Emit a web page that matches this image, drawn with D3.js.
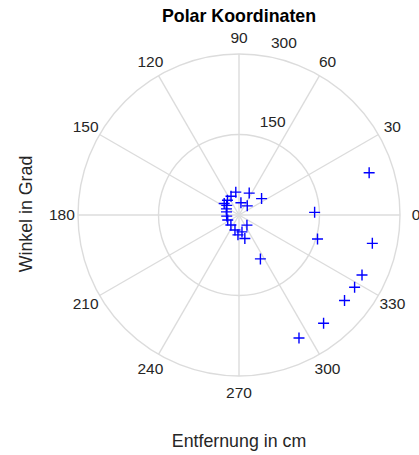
<!DOCTYPE html>
<html>
<head>
<meta charset="utf-8">
<script src="https://cdn.jsdelivr.net/npm/d3@7"></script>
<style>
  body { margin: 0; background: #fff; }
  text { font-family: "Liberation Sans", Arial, sans-serif; }
</style>
</head>
<body>
<div id="chart"></div>
<script>
var width = 419, height = 455;

// measured points: angle in degrees, distance in cm
var winkel = [2, 18, 36, 48, 65, 81, 98, 113, 128, 142, 142, 154, 166, 185, 204, 231, 255, 267, 280, 284, 296, 296, 308, 308, 321, 328, 334, 343, 348];
var entfernung = [141, 255, 52, 23, 45, 23, 43, 38, 35, 35, 29, 26, 24, 23, 23, 24, 29, 37, 32, 45, 91, 255, 24, 256, 253, 254, 255, 153, 254];

var angleTicks = [0, 30, 60, 90, 120, 150, 180, 210, 240, 270, 300, 330];
var radialTicks = [150, 300];

var cx = 239, cy = 215;

var svg = d3.select('#chart').append('svg')
  .attr('width', width)
  .attr('height', height);

var r = d3.scaleLinear().domain([0, 300]).range([0, 161]);

function px(deg, dist) { return cx + r(dist) * Math.cos(deg * Math.PI / 180); }
function py(deg, dist) { return cy - r(dist) * Math.sin(deg * Math.PI / 180); }

var grid = svg.append('g')
  .attr('stroke', '#dcdcdc')
  .attr('stroke-width', 1.4)
  .attr('fill', 'none');

// spokes
grid.selectAll('line')
  .data(angleTicks)
  .enter()
  .append('line')
  .attr('x1', cx).attr('y1', cy)
  .attr('x2', d => px(d, 300))
  .attr('y2', d => py(d, 300));

// circles
grid.selectAll('circle')
  .data(radialTicks)
  .enter()
  .append('circle')
  .attr('cx', cx).attr('cy', cy)
  .attr('r', d => r(d));

// angle labels
svg.append('g').selectAll('text')
  .data(angleTicks)
  .enter()
  .append('text')
  .attr('x', d => px(d, 330))
  .attr('y', d => py(d, 330))
  .attr('dy', '0.35em')
  .attr('text-anchor', 'middle')
  .attr('font-size', 15.5)
  .attr('fill', '#262626')
  .text(d => d);

// radial labels (at 82 degrees, like matlab polar)
svg.append('g').selectAll('text')
  .data(radialTicks)
  .enter()
  .append('text')
  .attr('x', d => px(82, d + 7.5) + 9)
  .attr('y', d => py(82, d + 7.5) - 4)
  .attr('font-size', 15.5)
  .attr('fill', '#262626')
  .text(d => d);

// data markers
svg.append('g').selectAll('path')
  .data(winkel)
  .enter()
  .append('path')
  .attr('transform', (d, i) => 'translate(' + px(d, entfernung[i]) + ',' + py(d, entfernung[i]) + ')')
  .attr('d', 'M-5.5,0H5.5M0,-5.5V5.5')
  .attr('stroke', '#0000ff')
  .attr('stroke-width', 1.4)
  .attr('fill', 'none');

svg.append('text')
  .attr('x', cx).attr('y', 22)
  .attr('text-anchor', 'middle')
  .attr('font-size', 17.8)
  .attr('font-weight', 'bold')
  .attr('fill', '#000')
  .text('Polar Koordinaten');

svg.append('text')
  .attr('x', cx).attr('y', 447)
  .attr('text-anchor', 'middle')
  .attr('font-size', 17.8)
  .attr('fill', '#262626')
  .text('Entfernung in cm');

svg.append('text')
  .attr('transform', 'translate(32,214) rotate(-90)')
  .attr('text-anchor', 'middle')
  .attr('font-size', 17.8)
  .attr('fill', '#262626')
  .text('Winkel in Grad');
</script>
</body>
</html>
